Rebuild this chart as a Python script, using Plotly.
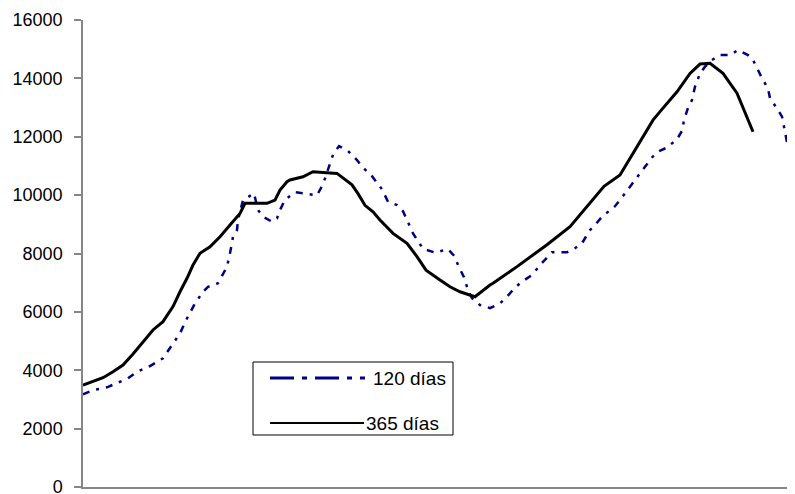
import plotly.graph_objects as go

# ---- data (x = position along the time axis, y = value) ----
x_365 = [0, 20, 30, 40, 50, 60, 70, 80, 90, 97, 104, 110, 117, 127, 137, 147, 157, 162,
         184, 192, 197, 204, 207, 220, 230, 254, 269, 275, 282, 290, 297, 310, 324, 334,
         343, 357, 367, 377, 392, 407, 410, 434, 464, 487, 494, 510, 521, 537, 557, 570,
         577, 594, 607, 617, 627, 640, 654, 664, 670]
y_365 = [3490, 3745, 3950, 4180, 4555, 4980, 5380, 5665, 6180, 6690, 7150, 7605, 8005,
         8230, 8575, 8975, 9375, 9720, 9720, 9830, 10175, 10460, 10520, 10630, 10800,
         10745, 10350, 10050, 9650, 9430, 9150, 8690, 8350, 7890, 7430, 7090, 6860, 6690,
         6520, 6920, 6980, 7550, 8300, 8920, 9205, 9830, 10300, 10690, 11800, 12570, 12860,
         13540, 14170, 14490, 14515, 14170, 13490, 12690, 12170]

x_120 = [0, 10, 24, 37, 45, 54, 67, 80, 87, 92, 97, 104, 112, 120, 125, 135, 140, 144,
         147, 150, 154, 155, 160, 171, 175, 180, 189, 194, 197, 202, 212, 224, 234, 240,
         245, 250, 256, 265, 274, 279, 289, 299, 305, 314, 320, 330, 340, 352, 365, 372,
         375, 381, 385, 389, 397, 407, 417, 424, 432, 439, 449, 458, 469, 484, 492, 499,
         507, 512, 519, 532, 542, 550, 560, 569, 575, 584, 594, 599, 601, 605, 609, 612,
         617, 622, 629, 637, 647, 655, 665, 670, 675, 680, 685, 687, 694, 699, 702, 705,
         707, 709, 711, 712]
y_120 = [3175, 3320, 3415, 3610, 3725, 3950, 4145, 4410, 4750, 5035, 5265, 5780, 6290,
         6690, 6860, 6980, 7320, 7550, 8005, 8575, 8805, 9150, 9830, 10060, 9490, 9260,
         9090, 9205, 9490, 9840, 10100, 10050, 9995, 10370, 10900, 11380, 11680, 11510,
         11200, 10975, 10650, 10200, 9775, 9660, 9450, 8690, 8160, 8030, 8150, 7890, 7605,
         7185, 6750, 6465, 6235, 6130, 6290, 6520, 6830, 7035, 7265, 7640, 8040, 8040,
         8180, 8350, 8805, 8975, 9260, 9620, 10060, 10430, 10860, 11290, 11490, 11630,
         11915, 12200, 12570, 12990, 13260, 13715, 14170, 14400, 14630, 14800, 14800,
         14970, 14800, 14630, 14285, 13940, 13660, 13315, 12970, 12690, 12170, 11660,
         11375, 10920, 10400, 10250]

y_ticks = [0, 2000, 4000, 6000, 8000, 10000, 12000, 14000, 16000]
series_names = ["120 días", "365 días"]

# ---- layout geometry (window pixels; the page body adds an 8px offset) ----
OFF = 8
W, H = 795, 494
PL, PR, PT, PB = 83, 795, 20, 487          # plot area in window coordinates
PW, PH = PR - PL, PB - PT

def px(x):
    return (x - PL) / PW

def py(y):
    return 1 - (y - PT) / PH

BLUE = "#000080"
FONT = "Liberation Sans, Arial, sans-serif"
DASH = "7px,7px,3px,7px"

fig = go.Figure()
fig.add_trace(go.Scatter(x=x_120, y=y_120, mode="lines", name=series_names[0],
                         line=dict(color=BLUE, width=2.5, dash=DASH)))
fig.add_trace(go.Scatter(x=x_365, y=y_365, mode="lines", name=series_names[1],
                         line=dict(color="black", width=3)))

fig.update_layout(
    width=W, height=H,
    margin=dict(l=PL - OFF, r=W - (PR - OFF), t=PT - OFF, b=H - (PB - OFF), autoexpand=False),
    paper_bgcolor="white", plot_bgcolor="white",
    showlegend=False,
    font=dict(family=FONT, size=18, color="black"),
    xaxis=dict(range=[0, 712], showgrid=False, zeroline=False, showticklabels=False,
               showline=True, linecolor="#868686", linewidth=1.5, ticks="",
               automargin=False),
    yaxis=dict(range=[0, 16000], tickvals=y_ticks, ticktext=[str(v) for v in y_ticks],
               showgrid=False, zeroline=False, showline=True, linecolor="#868686",
               linewidth=1.5, ticks="outside", ticklen=7, tickcolor="#868686",
               tickwidth=1.5, ticklabelstandoff=8, automargin=False,
               ticklabeloverflow="allow",
               tickfont=dict(family=FONT, size=18, color="black")),
)

# custom legend box
shapes = [
    dict(type="rect", xref="paper", yref="paper", x0=px(253), x1=px(453), y0=py(435), y1=py(362),
         line=dict(color="black", width=1), fillcolor="white", layer="above"),
    dict(type="line", xref="paper", yref="paper", x0=px(270), x1=px(365), y0=py(378), y1=py(378),
         line=dict(color=BLUE, width=3, dash="24px,8px,5px,8px"), layer="above"),
    dict(type="line", xref="paper", yref="paper", x0=px(270), x1=px(364), y0=py(423), y1=py(423),
         line=dict(color="black", width=2), layer="above"),
]
fig.update_layout(shapes=shapes)
fig.add_annotation(xref="paper", yref="paper", x=px(371), y=py(378), text=series_names[0],
                   showarrow=False, xanchor="left", yanchor="middle",
                   font=dict(family=FONT, size=19, color="black"))
fig.add_annotation(xref="paper", yref="paper", x=px(364), y=py(423), text=series_names[1],
                   showarrow=False, xanchor="left", yanchor="middle",
                   font=dict(family=FONT, size=19, color="black"))

fig.write_html("out.html")
